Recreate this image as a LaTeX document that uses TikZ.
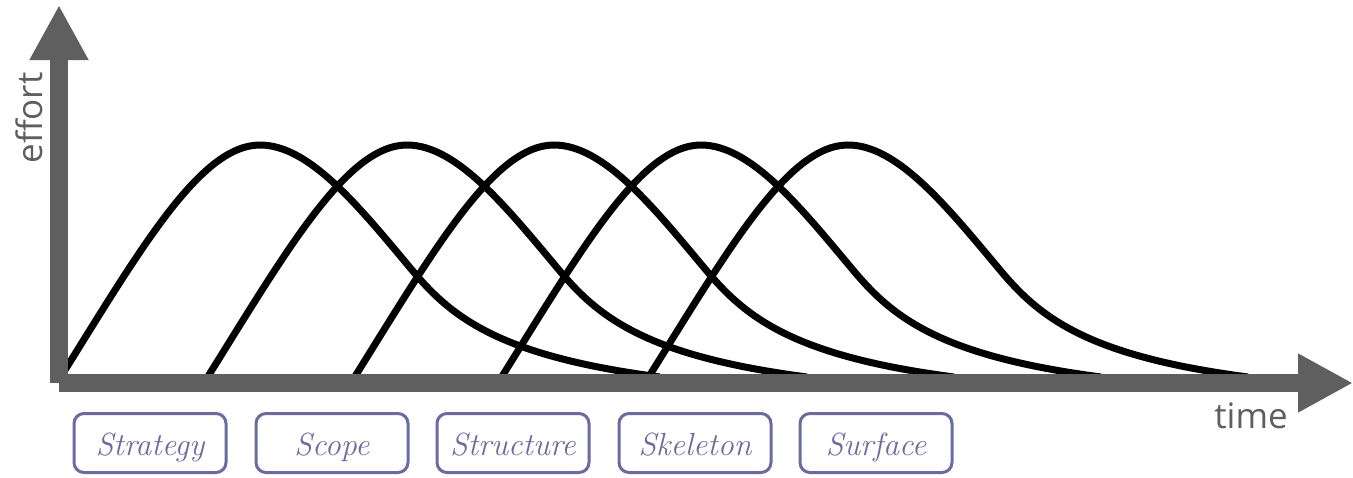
\documentclass[tikz,border=0pt]{standalone}
\usepackage{fontspec}
\usetikzlibrary{arrows.meta}
\newfontfamily\labelfont{Open Sans}
\definecolor{axisgray}{HTML}{5F5F5F}
\definecolor{boxc}{HTML}{6B6B9F}
\tikzset{
  axisline/.style={draw=axisgray, line width=18pt, -{Triangle[length=55pt,width=55pt]}},
  effortcurve/.style={draw=black, line width=7pt},
  phasebox/.style={draw=boxc, text=boxc, line width=3pt, rounded corners=10pt,
    minimum width=152pt, minimum height=59pt, inner sep=0pt,
    text height=30pt, text depth=6pt,
    font=\fontsize{32}{36}\selectfont\itshape},
  axislabel/.style={text=axisgray, inner sep=0pt, font=\labelfont\fontsize{35}{40}\selectfont}
}
\begin{document}
\begin{tikzpicture}[x=1pt,y=-1pt]
\useasboundingbox (0,0) rectangle (1353,477);
% curves
\foreach \s in {60,207,354,501,648}{
  \draw[effortcurve, shift={(\s,378)}]
    (0,0) .. controls (80,-128) and (140,-233) .. (200,-233)
    .. controls (250,-233) and (300,-170) .. (352,-108)
    .. controls (392,-60) and (440,-22) .. (600,-1);
}
% axes
\coordinate (yorigin) at (59,383);
\coordinate (ytop) at (59,5);
\coordinate (xorigin) at (59,383);
\coordinate (xend) at (1353,383);
\draw[axisline] (yorigin) -- (ytop);
\draw[axisline] (xorigin) -- (xend);
\node[axislabel, rotate=90, anchor=base] (effort) at (42,118) {effort};
\node[axislabel, anchor=base] (time) at (1251,428) {time};
% phase boxes
\node[phasebox] (strategy) at (150,443) {Strategy};
\node[phasebox] (scope) at (332,443) {Scope};
\node[phasebox] (structure) at (513,443) {Structure};
\node[phasebox] (skeleton) at (695,443) {Skeleton};
\node[phasebox] (surface) at (876,443) {Surface};
\end{tikzpicture}
\end{document}
